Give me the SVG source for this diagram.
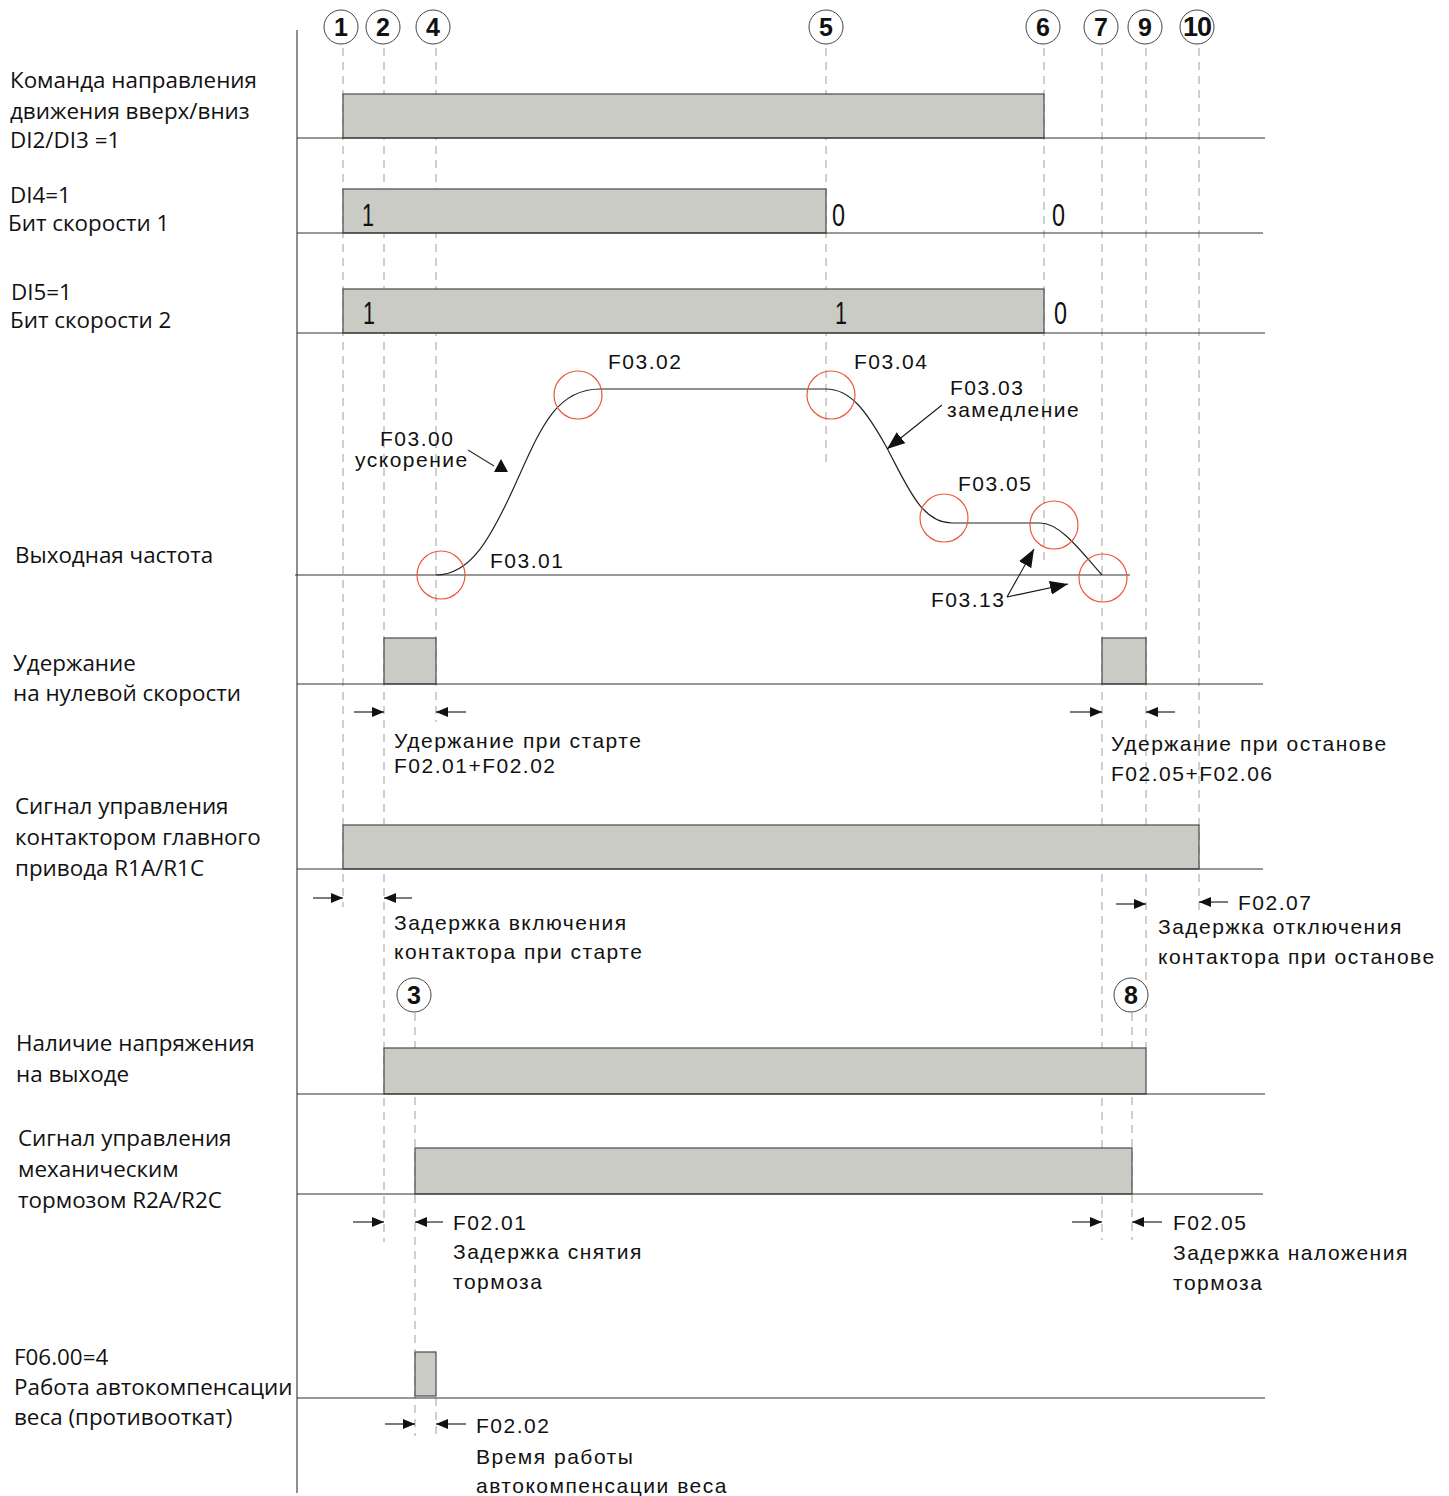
<svg xmlns="http://www.w3.org/2000/svg" width="1449" height="1496" viewBox="0 0 1449 1496">
<style>
.bg{fill:#fff}
.bar{fill:#cbcbc6;stroke:#4a4a4a;stroke-width:1.2}
.base{stroke:#333;stroke-width:1.1;fill:none}
.dash{stroke:#b0b0b0;stroke-width:1.2;stroke-dasharray:8 6;fill:none}
.lbl{font-family:"Open Sans","Noto Sans","DejaVu Sans",sans-serif;font-size:22.4px;fill:#111}
.txt{font-family:"Liberation Sans",Arial,sans-serif;font-size:21px;letter-spacing:1.5px;fill:#111}
.dig{font-family:"Liberation Sans Narrow","Liberation Sans",sans-serif;font-size:31px;fill:#111}
.nc{fill:#fff;stroke:#444;stroke-width:1}
.nt{font-family:"Liberation Sans Narrow","Liberation Sans",sans-serif;font-weight:bold;font-size:25px;fill:#111;text-anchor:middle}
.red{fill:none;stroke:#ea5a3c;stroke-width:1.2}
.arr{stroke:#111;stroke-width:1.1;fill:none;marker-end:url(#ah)}
.arrb{stroke:#111;stroke-width:1.1;fill:none;marker-end:url(#ahb)}
.curve{stroke:#222;stroke-width:1.2;fill:none}
</style>
<defs>
<marker id="ah" markerUnits="userSpaceOnUse" markerWidth="12" markerHeight="10" refX="12" refY="5" orient="auto">
<path d="M0,0 L12,5 L0,10 z" fill="#111"/>
</marker>
<marker id="ahb" markerUnits="userSpaceOnUse" markerWidth="18" markerHeight="14" refX="18" refY="7" orient="auto">
<path d="M0,0 L18,7 L0,14 z" fill="#111"/>
</marker>
</defs>
<rect class="bg" x="0" y="0" width="1449" height="1496"/>

<g id="axis">
<line class="base" x1="297" y1="30" x2="297" y2="1493"/>
</g>

<g id="time-markers">
<line class="dash" x1="343" y1="48" x2="343" y2="907"/>
<line class="dash" x1="384" y1="48" x2="384" y2="1242"/>
<line class="dash" x1="436" y1="48" x2="436" y2="722"/>
<line class="dash" x1="436" y1="1398" x2="436" y2="1436"/>
<line class="dash" x1="826" y1="48" x2="826" y2="468"/>
<line class="dash" x1="1044" y1="48" x2="1044" y2="562"/>
<line class="dash" x1="1102" y1="48" x2="1102" y2="1240"/>
<line class="dash" x1="1146" y1="48" x2="1146" y2="1048"/>
<line class="dash" x1="1199" y1="48" x2="1199" y2="912"/>
<line class="dash" x1="415" y1="1013" x2="415" y2="1436"/>
<line class="dash" x1="1132" y1="1013" x2="1132" y2="1240"/>
<g id="n1"><circle class="nc" cx="341" cy="27" r="17"/><text class="nt" x="341" y="36">1</text></g>
<g id="n2"><circle class="nc" cx="383" cy="27" r="17"/><text class="nt" x="383" y="36">2</text></g>
<g id="n4"><circle class="nc" cx="433" cy="27" r="17"/><text class="nt" x="433" y="36">4</text></g>
<g id="n5"><circle class="nc" cx="826" cy="27" r="17"/><text class="nt" x="826" y="36">5</text></g>
<g id="n6"><circle class="nc" cx="1043" cy="27" r="17"/><text class="nt" x="1043" y="36">6</text></g>
<g id="n7"><circle class="nc" cx="1101" cy="27" r="17"/><text class="nt" x="1101" y="36">7</text></g>
<g id="n9"><circle class="nc" cx="1145" cy="27" r="17"/><text class="nt" x="1145" y="36">9</text></g>
<g id="n10"><circle class="nc" cx="1197" cy="27" r="17"/><text class="nt" x="1197" y="36" style="font-size:27px;letter-spacing:-1px">10</text></g>
<g id="n3"><circle class="nc" cx="414" cy="995" r="17"/><text class="nt" x="414" y="1004">3</text></g>
<g id="n8"><circle class="nc" cx="1131" cy="995" r="17"/><text class="nt" x="1131" y="1004">8</text></g>
</g>

<g id="row-direction">
<text class="lbl" x="10" y="88">Команда направления</text>
<text class="lbl" x="10" y="119">движения вверх/вниз</text>
<text class="lbl" x="10" y="148">DI2/DI3 =1</text>
<rect class="bar" x="343" y="94" width="701" height="44"/>
<line class="base" x1="297" y1="138" x2="1265" y2="138"/>
</g>

<g id="row-speed1">
<text class="lbl" x="10" y="203">DI4=1</text>
<text class="lbl" x="8" y="231">Бит скорости 1</text>
<rect class="bar" x="343" y="189" width="483" height="44"/>
<line class="base" x1="297" y1="233" x2="1263" y2="233"/>
<text class="dig" x="362" y="226" textLength="12" lengthAdjust="spacingAndGlyphs">1</text>
<text class="dig" x="832" y="226" textLength="13" lengthAdjust="spacingAndGlyphs">0</text>
<text class="dig" x="1052" y="226" textLength="13" lengthAdjust="spacingAndGlyphs">0</text>
</g>

<g id="row-speed2">
<text class="lbl" x="11" y="300">DI5=1</text>
<text class="lbl" x="10" y="328">Бит скорости 2</text>
<rect class="bar" x="343" y="289" width="701" height="44"/>
<line class="base" x1="297" y1="333" x2="1265" y2="333"/>
<text class="dig" x="363" y="324" textLength="12" lengthAdjust="spacingAndGlyphs">1</text>
<text class="dig" x="835" y="324" textLength="12" lengthAdjust="spacingAndGlyphs">1</text>
<text class="dig" x="1054" y="324" textLength="13" lengthAdjust="spacingAndGlyphs">0</text>
</g>

<g id="row-frequency">
<text class="lbl" x="15" y="563">Выходная частота</text>
<line class="base" x1="295" y1="575" x2="1130" y2="575"/>
<path class="curve" d="M436,575 C470,575 490,540 515,485 C540,430 555,389 600,389 L826,389 C850,389 866,410 887,448 C908,488 922,523 952,523 L1040,523 C1060,523 1080,550 1102,575"/>
<circle class="red" cx="441" cy="575" r="24"/>
<circle class="red" cx="578" cy="395" r="24"/>
<circle class="red" cx="831" cy="395" r="24"/>
<circle class="red" cx="944" cy="518" r="24"/>
<circle class="red" cx="1054" cy="525" r="24"/>
<circle class="red" cx="1103" cy="578" r="24"/>
<text class="txt" x="608" y="369">F03.02</text>
<text class="txt" x="854" y="369">F03.04</text>
<text class="txt" x="950" y="395">F03.03</text>
<text class="txt" x="947" y="417">замедление</text>
<line class="arrb" x1="942" y1="405" x2="887" y2="449"/>
<text class="txt" x="380" y="446">F03.00</text>
<text class="txt" x="355" y="467">ускорение</text>
<line class="base" x1="468" y1="450" x2="494" y2="466"/>
<polygon points="501,459 494,472 508,472" fill="#111"/>
<text class="txt" x="490" y="568">F03.01</text>
<text class="txt" x="958" y="491">F03.05</text>
<text class="txt" x="931" y="607">F03.13</text>
<line class="arrb" x1="1007" y1="597" x2="1034" y2="549"/>
<line class="arrb" x1="1007" y1="597" x2="1068" y2="584"/>
</g>

<g id="row-zero-hold">
<text class="lbl" x="13" y="671">Удержание</text>
<text class="lbl" x="13" y="701">на нулевой скорости</text>
<rect class="bar" x="384" y="638" width="52" height="46"/>
<rect class="bar" x="1102" y="638" width="44" height="46"/>
<line class="base" x1="297" y1="684" x2="1263" y2="684"/>
<text class="txt" x="394" y="748">Удержание при старте</text>
<text class="txt" x="394" y="773">F02.01+F02.02</text>
<text class="txt" x="1111" y="751">Удержание при останове</text>
<text class="txt" x="1111" y="781">F02.05+F02.06</text>
</g>

<g id="row-contactor">
<text class="lbl" x="15" y="814">Сигнал управления</text>
<text class="lbl" x="15" y="845">контактором главного</text>
<text class="lbl" x="15" y="876">привода  R1A/R1C</text>
<rect class="bar" x="343" y="825" width="856" height="44"/>
<line class="base" x1="297" y1="869" x2="1263" y2="869"/>
<text class="txt" x="394" y="930">Задержка включения</text>
<text class="txt" x="394" y="959">контактора при старте</text>
<text class="txt" x="1238" y="910">F02.07</text>
<text class="txt" x="1158" y="934">Задержка отключения</text>
<text class="txt" x="1158" y="964">контактора при останове</text>
</g>

<g id="row-voltage">
<text class="lbl" x="16" y="1051">Наличие напряжения</text>
<text class="lbl" x="16" y="1082">на выходе</text>
<rect class="bar" x="384" y="1048" width="762" height="46"/>
<line class="base" x1="297" y1="1094" x2="1265" y2="1094"/>
</g>

<g id="row-brake">
<text class="lbl" x="18" y="1146">Сигнал управления</text>
<text class="lbl" x="18" y="1177">механическим</text>
<text class="lbl" x="18" y="1208">тормозом  R2A/R2C</text>
<rect class="bar" x="415" y="1148" width="717" height="46"/>
<line class="base" x1="297" y1="1194" x2="1263" y2="1194"/>
<text class="txt" x="453" y="1230">F02.01</text>
<text class="txt" x="453" y="1259">Задержка снятия</text>
<text class="txt" x="453" y="1289">тормоза</text>
<text class="txt" x="1173" y="1230">F02.05</text>
<text class="txt" x="1173" y="1260">Задержка наложения</text>
<text class="txt" x="1173" y="1290">тормоза</text>
</g>

<g id="row-anti-rollback">
<text class="lbl" x="14" y="1365">F06.00=4</text>
<text class="lbl" x="14" y="1395">Работа автокомпенсации</text>
<text class="lbl" x="14" y="1425">веса (противооткат)</text>
<rect class="bar" x="415" y="1352" width="21" height="44"/>
<line class="base" x1="297" y1="1398" x2="1265" y2="1398"/>
<text class="txt" x="476" y="1433">F02.02</text>
<text class="txt" x="476" y="1464">Время работы</text>
<text class="txt" x="476" y="1493">автокомпенсации веса</text>
</g>

<g id="connectors">
<line class="arr" x1="354" y1="712" x2="384" y2="712"/>
<line class="arr" x1="466" y1="712" x2="436" y2="712"/>
<line class="arr" x1="1070" y1="712" x2="1102" y2="712"/>
<line class="arr" x1="1175" y1="712" x2="1146" y2="712"/>
<line class="arr" x1="313" y1="898" x2="343" y2="898"/>
<line class="arr" x1="412" y1="898" x2="384" y2="898"/>
<line class="arr" x1="1116" y1="904" x2="1146" y2="904"/>
<line class="arr" x1="1228" y1="902" x2="1199" y2="902"/>
<line class="arr" x1="353" y1="1222" x2="384" y2="1222"/>
<line class="arr" x1="443" y1="1222" x2="415" y2="1222"/>
<line class="arr" x1="1072" y1="1222" x2="1102" y2="1222"/>
<line class="arr" x1="1162" y1="1222" x2="1132" y2="1222"/>
<line class="arr" x1="385" y1="1424" x2="415" y2="1424"/>
<line class="arr" x1="466" y1="1424" x2="436" y2="1424"/>
</g>
</svg>
